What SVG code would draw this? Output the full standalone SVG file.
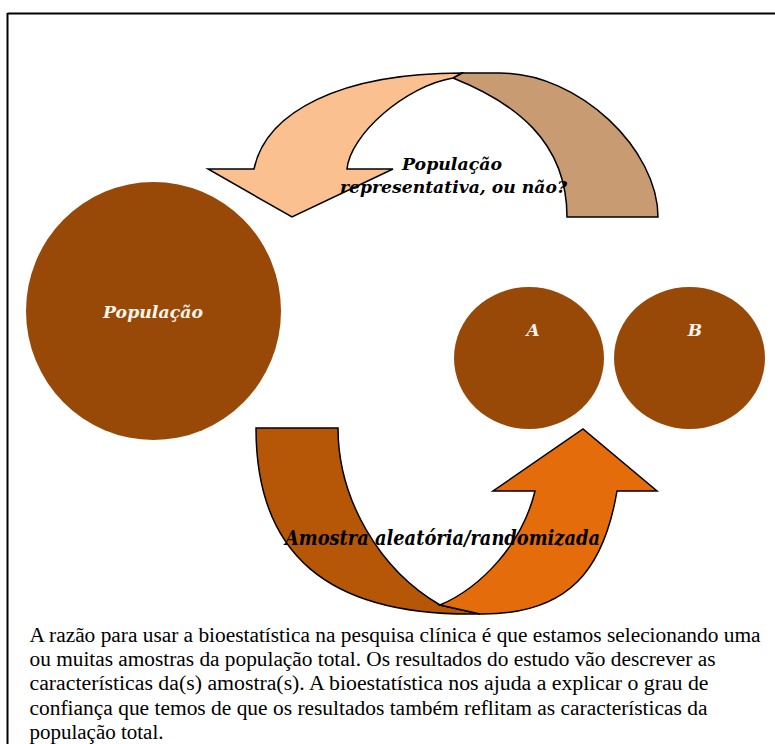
<svg xmlns="http://www.w3.org/2000/svg" width="775" height="744" viewBox="0 0 775 744">
<style>
.node{fill:#984807;}
.arr{stroke:#000;stroke-width:1.5;stroke-linejoin:miter;}
</style>
<rect x="0" y="0" width="775" height="744" fill="#fff"/>
<g id="frame">
<line x1="7.5" y1="13.5" x2="775" y2="13.5" stroke="#000" stroke-width="2"/>
<line x1="7.5" y1="13" x2="7.5" y2="744" stroke="#000" stroke-width="2"/>
</g>
<g id="connectors">
<g id="arrow-top">
<path class="arr" fill="#C99B73" d="M567,217 L658,217 C658,150 580,73 500,73 L462,73 L453,78 C513,102 567,140 567,217 Z"/>
<path class="arr" fill="#FAC090" d="M208,169 L254,169 C266,112 340,73 462,73 L453,78 C405,86 350,135 347,169 L393,169 L292,217 Z"/>
<text font-family="DejaVu Serif" font-weight="bold" font-style="italic" font-size="17" fill="#000" x="402" y="170" textLength="100" lengthAdjust="spacingAndGlyphs">População</text>
<text font-family="DejaVu Serif" font-weight="bold" font-style="italic" font-size="17" fill="#000" x="340" y="193" textLength="227" lengthAdjust="spacingAndGlyphs">representativa, ou não?</text>
</g>
<g id="arrow-bottom">
<path class="arr" fill="#B65708" d="M256,428 L338,428 C338,500 380,570 440,605 L480,614 C325,617 256,552 256,428 Z"/>
<path class="arr" fill="#E46C0A" d="M440,605 C480,588 522,545 535,491 L493,491 L583,429 L657,491 L617,491 C604,568 570,615 480,614 Z"/>
<text font-family="DejaVu Serif" font-weight="bold" font-style="italic" font-size="19.5" fill="#000" x="285" y="545" textLength="315" lengthAdjust="spacingAndGlyphs">Amostra aleatória/randomizada</text>
</g>
</g>
<g id="node-populacao">
<ellipse class="node" cx="153.5" cy="311" rx="127.5" ry="129"/>
<text font-family="DejaVu Serif" font-weight="bold" font-style="italic" font-size="17" fill="#FAF5EC" text-anchor="middle" x="153" y="318" textLength="100" lengthAdjust="spacingAndGlyphs">População</text>
</g>
<g id="node-A">
<ellipse class="node" cx="529" cy="358" rx="75" ry="71"/>
<text font-family="DejaVu Serif" font-weight="bold" font-style="italic" font-size="17" fill="#FAF5EC" text-anchor="middle" x="533" y="336">A</text>
</g>
<g id="node-B">
<ellipse class="node" cx="689.5" cy="358" rx="75.5" ry="71"/>
<text font-family="DejaVu Serif" font-weight="bold" font-style="italic" font-size="17" fill="#FAF5EC" text-anchor="middle" x="695" y="336">B</text>
</g>
<g id="caption">
<text font-family="Liberation Serif" font-size="20.5" fill="#000" x="29.5" y="642" textLength="731" lengthAdjust="spacingAndGlyphs">A razão para usar a bioestatística na pesquisa clínica é que estamos selecionando uma</text>
<text font-family="Liberation Serif" font-size="20.5" fill="#000" x="29.5" y="666" textLength="686" lengthAdjust="spacingAndGlyphs">ou muitas amostras da população total. Os resultados do estudo vão descrever as</text>
<text font-family="Liberation Serif" font-size="20.5" fill="#000" x="29.5" y="690" textLength="679" lengthAdjust="spacingAndGlyphs">características da(s) amostra(s). A bioestatística nos ajuda a explicar o grau de</text>
<text font-family="Liberation Serif" font-size="20.5" fill="#000" x="29.5" y="714.5" textLength="678" lengthAdjust="spacingAndGlyphs">confiança que temos de que os resultados também reflitam as características da</text>
<text font-family="Liberation Serif" font-size="20.5" fill="#000" x="29.5" y="738.5" textLength="134" lengthAdjust="spacingAndGlyphs">população total.</text>
</g>
</svg>
